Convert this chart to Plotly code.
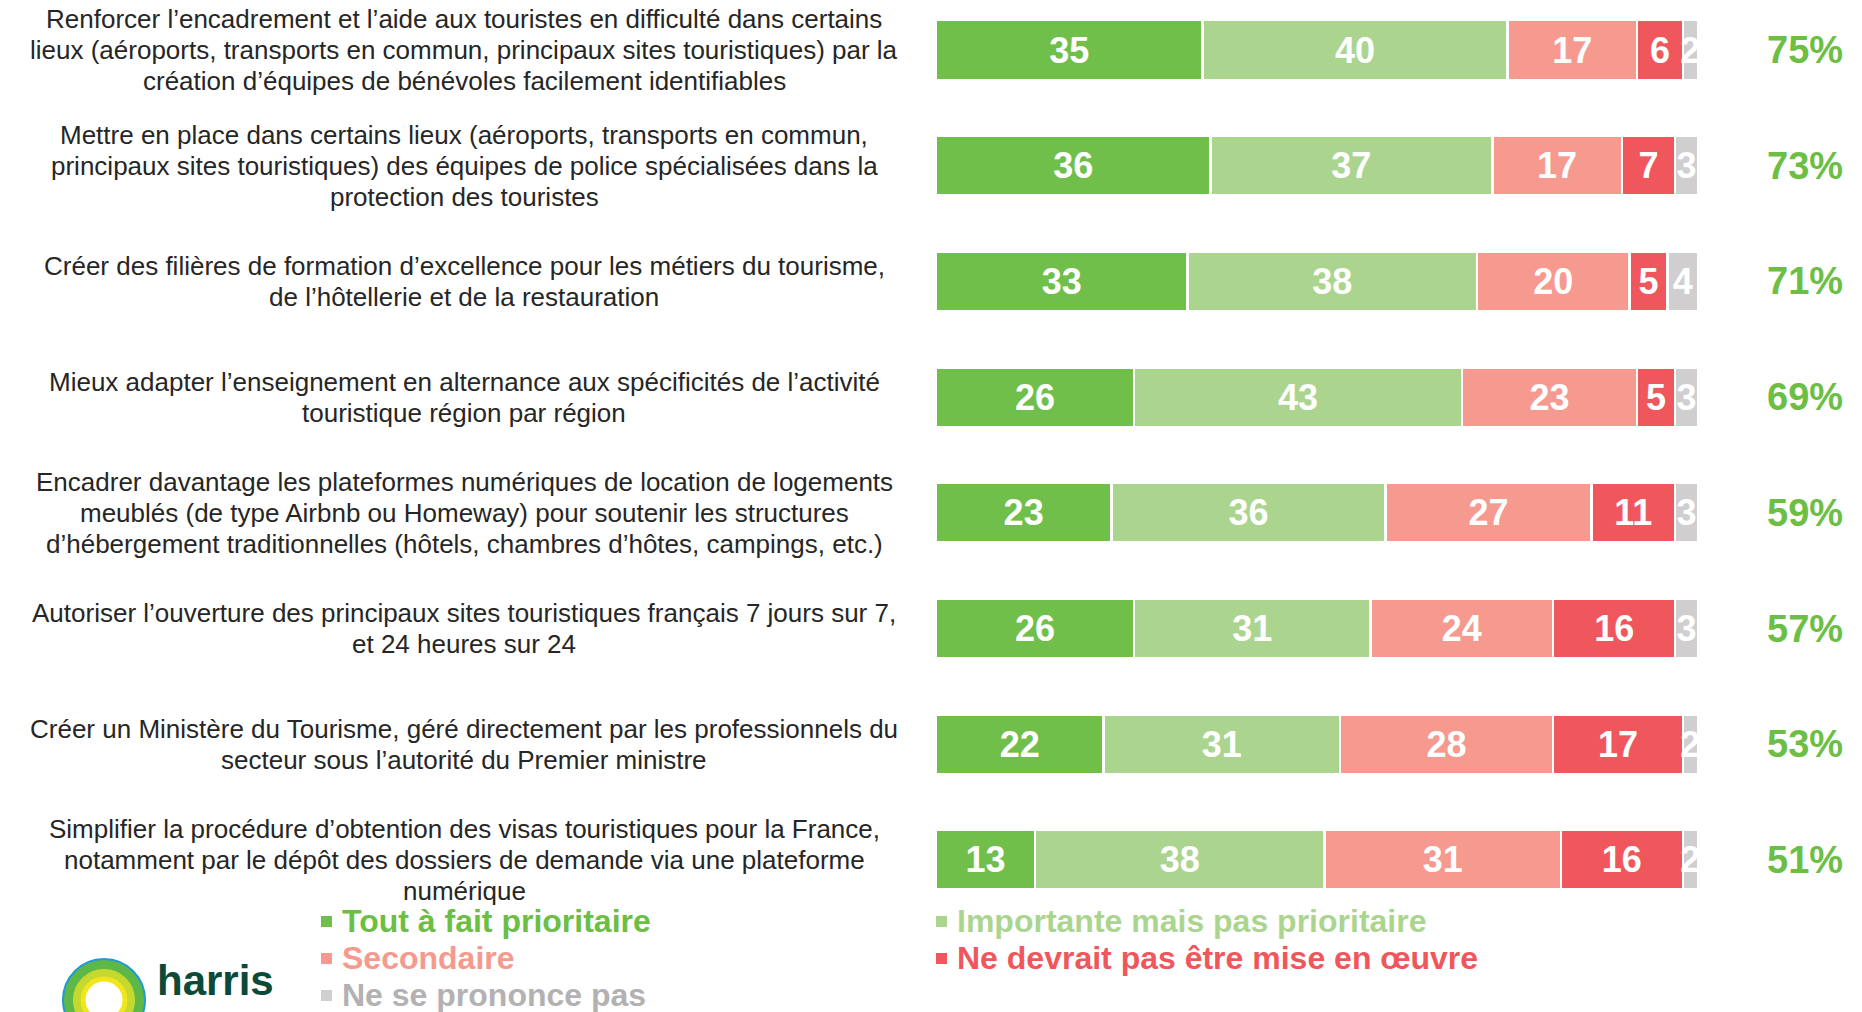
import plotly.graph_objects as go

# ---- data ----
categories = [
    "Renforcer l’encadrement et l’aide aux touristes en difficulté dans certains<br>lieux (aéroports, transports en commun, principaux sites touristiques) par la<br>création d’équipes de bénévoles facilement identifiables",
    "Mettre en place dans certains lieux (aéroports, transports en commun,<br>principaux sites touristiques) des équipes de police spécialisées dans la<br>protection des touristes",
    "Créer des filières de formation d’excellence pour les métiers du tourisme,<br>de l’hôtellerie et de la restauration",
    "Mieux adapter l’enseignement en alternance aux spécificités de l’activité<br>touristique région par région",
    "Encadrer davantage les plateformes numériques de location de logements<br>meublés (de type Airbnb ou Homeway) pour soutenir les structures<br>d’hébergement traditionnelles (hôtels, chambres d’hôtes, campings, etc.)",
    "Autoriser l’ouverture des principaux sites touristiques français 7 jours sur 7,<br>et 24 heures sur 24",
    "Créer un Ministère du Tourisme, géré directement par les professionnels du<br>secteur sous l’autorité du Premier ministre",
    "Simplifier la procédure d’obtention des visas touristiques pour la France,<br>notamment par le dépôt des dossiers de demande via une plateforme<br>numérique",
]
series_names = [
    "Tout à fait prioritaire",
    "Importante mais pas prioritaire",
    "Secondaire",
    "Ne devrait pas être mise en œuvre",
    "Ne se prononce pas",
]
tout_a_fait = [35, 36, 33, 26, 23, 26, 22, 13]
importante = [40, 37, 38, 43, 36, 31, 31, 38]
secondaire = [17, 17, 20, 23, 27, 24, 28, 31]
ne_devrait_pas = [6, 7, 5, 5, 11, 16, 17, 16]
nsp = [2, 3, 4, 3, 3, 3, 2, 2]
total_prioritaire = [75, 73, 71, 69, 59, 57, 53, 51]

colors = ["#70BF4B", "#ABD58F", "#F6998F", "#EF575C", "#D0CECF"]
legend_text_colors = ["#6CBE45", "#ABD58F", "#F6998F", "#EF575C", "#B3B1B2"]

FONT = "Liberation Sans Narrow, Arial Narrow, Liberation Sans, Arial, sans-serif"
W, H = 1862, 1012
OFF = 8  # page body margin offset


def px(x):
    return (x - OFF) / W


def py(y):
    return 1 - (y - OFF) / H


fig = go.Figure()
ids = list(range(len(categories)))
for name, vals, col in zip(series_names,
                           [tout_a_fait, importante, secondaire, ne_devrait_pas, nsp],
                           colors):
    fig.add_trace(go.Bar(
        y=ids, x=vals, orientation="h", name=name,
        marker=dict(color=col, line=dict(color="white", width=2.5)),
        text=[str(v) for v in vals], textposition="inside",
        insidetextanchor="middle",
        textfont=dict(color="white", size=36, family=FONT, weight="bold"),
        width=0.515, showlegend=False, hoverinfo="skip",
    ))

annotations = []
LINE = 31
for i, (cat, tot) in enumerate(zip(categories, total_prioritaire)):
    lines = cat.split("<br>")
    n = len(lines)
    for k, ln in enumerate(lines):
        annotations.append(dict(
            x=px(464), xref="paper", y=i, yref="y", text=ln, showarrow=False,
            align="center", xanchor="center", yanchor="middle",
            yshift=-(k - (n - 1) / 2) * LINE,
            font=dict(size=26, color="#262626", family=FONT),
        ))
    annotations.append(dict(
        x=px(1805), xref="paper", y=i, yref="y", text=f"{tot}%", showarrow=False,
        xanchor="center", yanchor="middle",
        font=dict(size=38, color="#6CBE45", family=FONT, weight="bold"),
    ))

# legend (custom, two columns)
legend_pos = [(321, 921), (936, 921), (321, 958), (936, 958), (321, 995)]
shapes = []
for (lx, ly), name, col, tcol in zip(legend_pos, series_names, colors, legend_text_colors):
    shapes.append(dict(type="rect", xref="paper", yref="paper",
                       x0=px(lx), x1=px(lx + 11),
                       y0=py(ly + 6), y1=py(ly - 5),
                       fillcolor=col, line=dict(width=0)))
    annotations.append(dict(
        x=px(lx + 19), xref="paper", y=py(ly), yref="paper", text=f"<b>{name}</b>",
        showarrow=False, xanchor="left", yanchor="middle",
        font=dict(size=32, color=tcol, family=FONT),
    ))

# logo (approximation)
cx, cy = 104, 1000
for r, col, wdt in [(40, "#1E9AD6", 4), (35, "#5DB847", 10), (27, "#C4D82E", 8), (21, "#F1E51B", 5)]:
    shapes.append(dict(type="circle", xref="paper", yref="paper",
                       x0=px(cx - r), x1=px(cx + r), y0=py(cy + r), y1=py(cy - r),
                       line=dict(color=col, width=wdt), fillcolor="rgba(0,0,0,0)"))
annotations.append(dict(x=px(155), xref="paper", y=py(980), yref="paper",
                        text="<b>harris</b>", showarrow=False, xanchor="left", yanchor="middle",
                        font=dict(size=42, color="#0B4A36", family="Liberation Sans, Arial, sans-serif")))
annotations.append(dict(x=px(155), xref="paper", y=py(1030), yref="paper",
                        text="<b>interactive</b>", showarrow=False, xanchor="left", yanchor="middle",
                        font=dict(size=42, color="#0B4A36", family="Liberation Sans, Arial, sans-serif")))
annotations.append(dict(x=px(1817), xref="paper", y=py(1024), yref="paper",
                        text="17", showarrow=False, xanchor="center", yanchor="middle",
                        font=dict(size=26, color="#8C8C8C", family="Liberation Sans, Arial, sans-serif")))

# y axis: bar centres at 50 px (first) with 115.7 px pitch; domain top at page px 8
PITCH = 115.7
top_val = -(50 - OFF) / PITCH
fig.update_layout(
    width=W, height=H, barmode="stack", bargap=0.5,
    margin=dict(l=0, r=0, t=0, b=0),
    paper_bgcolor="white", plot_bgcolor="white",
    xaxis=dict(domain=[px(936), px(1698)], range=[0, 100], visible=False, fixedrange=True),
    yaxis=dict(domain=[py(50 + 8.0 * PITCH), 1.0], range=[8.0, top_val], visible=False),
    uniformtext=dict(mode="show", minsize=36),
    annotations=annotations, shapes=shapes,
)

fig.write_html("out.html")
